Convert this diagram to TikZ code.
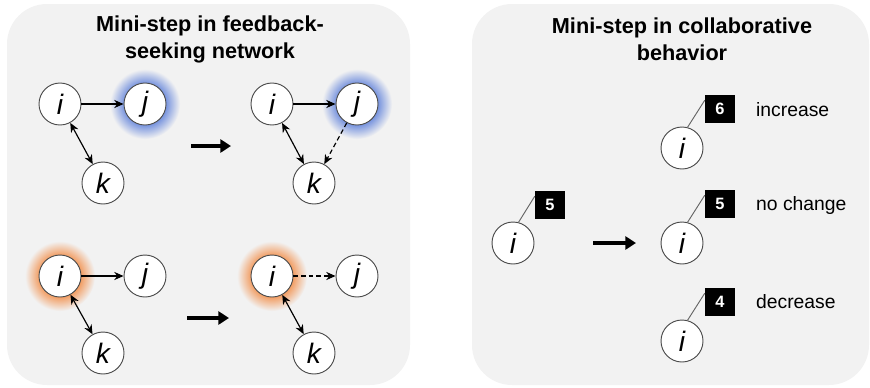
\documentclass[tikz,border=0pt]{standalone}
\usepackage{fontspec}
\setmainfont{Liberation Sans}
\usetikzlibrary{arrows.meta,backgrounds}

\definecolor{panelgray}{RGB}{242,242,242}
\definecolor{glowblue}{RGB}{120,148,222}
\definecolor{gloworange}{RGB}{242,158,100}
\pgfdeclareradialshading{blueglow}{\pgfpoint{0bp}{0bp}}{color(0bp)=(glowblue); color(15bp)=(glowblue); color(25bp)=(panelgray); color(50bp)=(panelgray)}
\pgfdeclareradialshading{orangeglow}{\pgfpoint{0bp}{0bp}}{color(0bp)=(gloworange); color(15bp)=(gloworange); color(25bp)=(panelgray); color(50bp)=(panelgray)}

\begin{document}
\begin{tikzpicture}[x=0.03cm, y=-0.03cm,
  actor/.style={circle, draw=black!70, line width=0.8pt, fill=white, minimum size=1.26cm, inner sep=0pt, font=\fontsize{24}{24}\selectfont\itshape},
  link/.style={line width=1pt, -{Stealth[length=8pt,width=7pt]}},
  duallink/.style={line width=1pt, {Stealth[length=8pt,width=7pt]}-{Stealth[length=8pt,width=7pt]}},
  bigarrow/.style={line width=4pt, -{Triangle[length=9pt,width=11pt]}},
  numbox/.style={fill=black, text=white, font=\bfseries\fontsize{14}{14}\selectfont, minimum width=0.9cm, minimum height=0.84cm, inner sep=0pt},
  stick/.style={draw=black!60, line width=0.8pt},
  heading/.style={font=\bfseries\fontsize{18.5}{23}\selectfont, align=center},
  remark/.style={anchor=west, font=\fontsize{16.5}{16.5}\selectfont}]

\useasboundingbox (0,0) rectangle (870,387);

% Draw the two panels
\begin{scope}[on background layer]
\fill[panelgray, rounded corners=1.2cm] (7,4) rectangle (410,385);
\fill[panelgray, rounded corners=1.2cm] (472,4) rectangle (869,385);
\end{scope}

% Left panel: feedback-seeking network
\node[heading] (titleL) at (210,39) {Mini-step in feedback-\\seeking network};

% Top row
\node[actor] (iA) at (60,104) {i};
\node[actor] (jA) at (145,104) {j};
\node[actor] (kA) at (103,183) {k};
\draw[link] (iA) -- (jA);
\draw[duallink] (iA) -- (kA);

\node[actor] (iB) at (272,104) {i};
\node[actor] (jB) at (357,104) {j};
\node[actor] (kB) at (314,183) {k};
\draw[link] (iB) -- (jB);
\draw[duallink] (iB) -- (kB);
\draw[link, dash pattern=on 4pt off 2.5pt] (jB) -- (kB);

\coordinate (a1s) at (191,146);
\coordinate (a1e) at (231,146);
\draw[bigarrow] (a1s) -- (a1e);

% Bottom row
\node[actor] (iC) at (60,276) {i};
\node[actor] (jC) at (145,276) {j};
\node[actor] (kC) at (103,353) {k};
\draw[link] (iC) -- (jC);
\draw[duallink] (iC) -- (kC);

\node[actor] (iD) at (272,276) {i};
\node[actor] (jD) at (357,276) {j};
\node[actor] (kD) at (314,353) {k};
\draw[link, dash pattern=on 4pt off 2.5pt] (iD) -- (jD);
\draw[duallink] (iD) -- (kD);

\coordinate (a2s) at (187,318);
\coordinate (a2e) at (229,318);
\draw[bigarrow] (a2s) -- (a2e);

% Glows behind the selected actors
\begin{scope}[on background layer]
\shade[shading=blueglow] (jA) circle (35);
\shade[shading=blueglow] (jB) circle (35);
\shade[shading=orangeglow] (iC) circle (35);
\shade[shading=orangeglow] (iD) circle (35);
\end{scope}

% Right panel: collaborative behavior
\node[heading] (titleR) at (682,39) {Mini-step in collaborative\\behavior};

\node[actor] (iE) at (513,243) {i};
\node[numbox] (boxE) at (550,205) {5};
\draw[stick] (iE.75) -- (boxE.150);

\coordinate (a3s) at (593,243);
\coordinate (a3e) at (636,243);
\draw[bigarrow] (a3s) -- (a3e);

\node[actor] (iF) at (682,148) {i};
\node[numbox] (boxF) at (720,109) {6};
\draw[stick] (iF.75) -- (boxF.150);
\node[remark] (upF) at (752,110) {increase};

\node[actor] (iG) at (682,243) {i};
\node[numbox] (boxG) at (720,204) {5};
\draw[stick] (iG.75) -- (boxG.150);
\node[remark] (sameG) at (752,205) {no change};

\node[actor] (iH) at (682,341) {i};
\node[numbox] (boxH) at (720,302) {4};
\draw[stick] (iH.75) -- (boxH.150);
\node[remark] (downH) at (752,302) {decrease};

\end{tikzpicture}
\end{document}
